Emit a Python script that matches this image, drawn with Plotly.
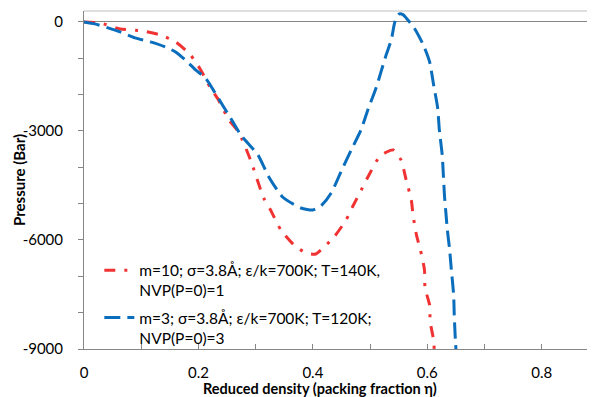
import plotly.graph_objects as go

# Red series: m=10 (dash-dot)
eta_red = [0.0, 0.028, 0.063, 0.102, 0.133, 0.160, 0.186, 0.204, 0.221, 0.235, 0.253, 0.270,
           0.291, 0.314, 0.326, 0.344, 0.367, 0.388, 0.405, 0.414, 0.437, 0.458, 0.470, 0.481,
           0.498, 0.516, 0.529, 0.540, 0.554, 0.563, 0.572, 0.575, 0.581, 0.588, 0.595, 0.596,
           0.604, 0.605, 0.611, 0.612]
p_red = [0, -28, -193, -248, -358, -550, -908, -1321, -1817, -2147, -2697, -3028,
         -3798, -4844, -5175, -5725, -6138, -6358, -6386, -6276, -5918, -5450, -5065, -4734,
         -4211, -3716, -3580, -3523, -3798, -4349, -4899, -5312, -5863, -6276, -6826, -7322,
         -7790, -8258, -8753, -9000]

# Blue series: m=3 (dashed)
eta_blue = [0.0, 0.019, 0.042, 0.063, 0.089, 0.116, 0.142, 0.160, 0.177, 0.195, 0.212, 0.226,
            0.242, 0.256, 0.274, 0.304, 0.323, 0.347, 0.379, 0.400, 0.414, 0.432, 0.449, 0.467,
            0.484, 0.496, 0.511, 0.519, 0.528, 0.537, 0.542, 0.546, 0.551, 0.558, 0.563, 0.577,
            0.593, 0.604, 0.611, 0.618, 0.621, 0.626, 0.628, 0.630, 0.632, 0.635, 0.639, 0.642,
            0.646, 0.647, 0.649, 0.650]
p_blue = [0, -55, -165, -275, -440, -550, -688, -826, -1046, -1321, -1541, -1872,
          -2285, -2642, -3110, -3661, -4266, -4817, -5120, -5175, -5065, -4707, -4129, -3523,
          -2973, -2422, -1789, -1376, -908, -495, -83, 138, 220, 193, 110, -165,
          -633, -1101, -1734, -2367, -2973, -3661, -4211, -4789, -5175, -5725, -6276, -6826,
          -7514, -8065, -8753, -9000]

label_red = "m=10; σ=3.8Å; ε/k=700K; T=140K,<br>NVP(P=0)=1"
label_blue = "m=3; σ=3.8Å; ε/k=700K; T=120K;<br>NVP(P=0)=3"

x_ticks = [0, 0.2, 0.4, 0.6, 0.8]
x_ticktext = ["0", "0.2", "0.4", "0.6", "0.8"]
y_ticks = [0, -3000, -6000, -9000]
y_ticktext = ["0", "-3000", "-6000", "-9000"]

FONT = "Lato, 'Open Sans', sans-serif"

fig = go.Figure()
fig.add_trace(go.Scatter(x=eta_red, y=p_red, mode="lines", name=label_red, legendgroup="a",
                         line=dict(color="#F03232", width=3, dash="11px,9px,3px,9px",
                                   shape="spline", smoothing=0.6)))
fig.add_trace(go.Scatter(x=eta_blue, y=p_blue, mode="lines", name=label_blue, legendgroup="b",
                         line=dict(color="#0A6EBD", width=3, dash="16px,7px",
                                   shape="spline", smoothing=0.6)))

fig.update_layout(
    width=587, height=389,
    margin=dict(l=76, r=0, t=3, b=48),
    paper_bgcolor="white", plot_bgcolor="white",
    font=dict(family=FONT, size=15, color="black"),
    showlegend=True,
    legend=dict(x=0.03, y=0.282, xanchor="left", yanchor="top", bgcolor="rgba(0,0,0,0)",
                font=dict(size=15.5), valign="top", tracegroupgap=4, itemwidth=30),
    xaxis=dict(range=[0, 0.893], tickvals=x_ticks, ticktext=x_ticktext,
               ticks="inside", ticklen=5, tickcolor="#868686",
               minor=dict(dtick=0.1, ticks="inside", ticklen=5, tickcolor="#868686"),
               showline=True, linecolor="#868686", linewidth=1,
               showgrid=False, zeroline=False, ticklabelstandoff=10),
    yaxis=dict(range=[-9000, 300], tickvals=y_ticks, ticktext=y_ticktext,
               ticks="outside", ticklen=5, tickcolor="#868686",
               minor=dict(dtick=1000, ticks="outside", ticklen=5, tickcolor="#868686"),
               showline=True, linecolor="#868686", linewidth=1,
               showgrid=False, zeroline=True, zerolinecolor="#868686", zerolinewidth=1,
               ticklabelstandoff=12),
)

fig.add_shape(type="line", xref="paper", yref="paper", x0=0, x1=1, y0=1, y1=1,
              line=dict(color="#BFBFBF", width=1))

fig.add_annotation(text="<b>Reduced density (packing fraction η)</b>", xref="paper", yref="paper",
                   x=0.462, y=-0.1169, xanchor="center", yanchor="middle", showarrow=False,
                   font=dict(size=14.5))
fig.add_annotation(text="<b>Pressure (Bar)</b>", xref="paper", yref="paper",
                   x=-0.1272, y=0.5, xanchor="center", yanchor="middle", showarrow=False,
                   textangle=-90, font=dict(size=15))

fig.write_html("out.html")
